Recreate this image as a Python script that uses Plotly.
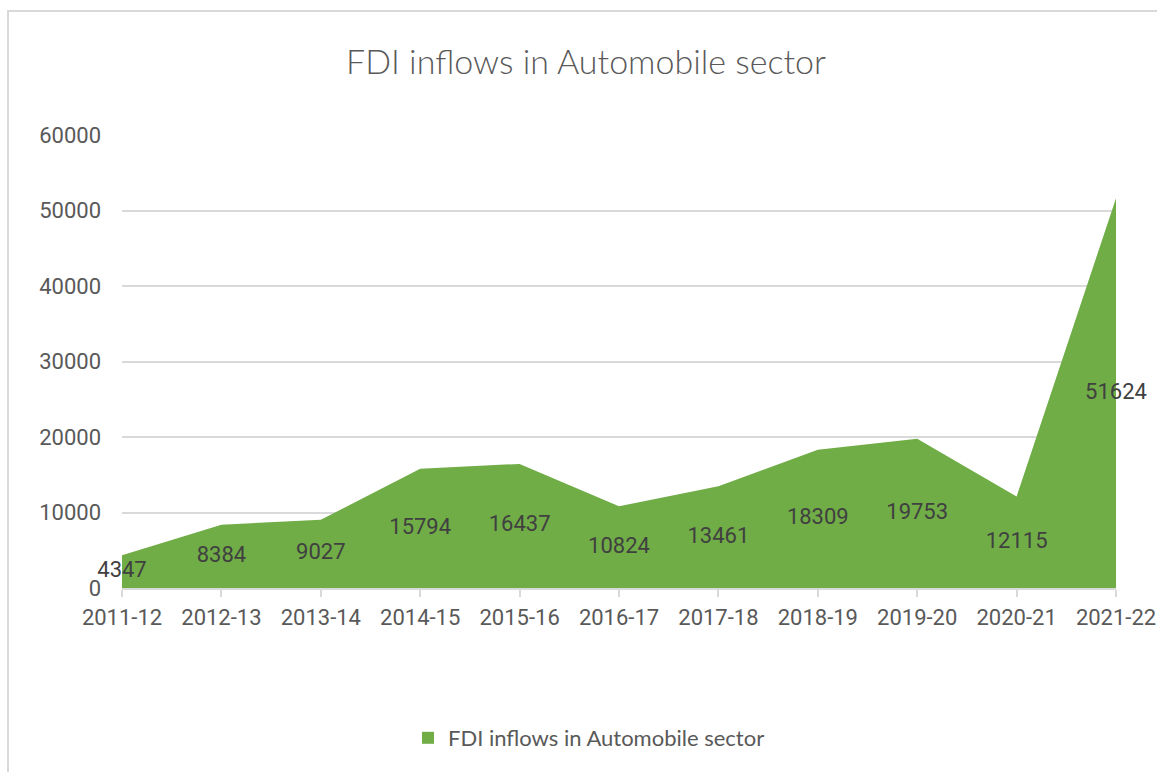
import plotly.graph_objects as go

years = ["2011-12", "2012-13", "2013-14", "2014-15", "2015-16", "2016-17",
         "2017-18", "2018-19", "2019-20", "2020-21", "2021-22"]
fdi = [4347, 8384, 9027, 15794, 16437, 10824, 13461, 18309, 19753, 12115, 51624]
y_ticks = [0, 10000, 20000, 30000, 40000, 50000, 60000]
series_name = "FDI inflows in Automobile sector"
title_text = "FDI inflows in Automobile sector"

GREEN = "#70AD47"
W, H = 1157, 772
L, R, T, B = 122, 41, 135, 184
pw, ph = W - L - R, H - T - B

fig = go.Figure()
fig.add_trace(go.Scatter(
    x=years, y=fdi, mode="lines", fill="tozeroy",
    line=dict(color=GREEN, width=0), fillcolor=GREEN,
    name=series_name, showlegend=False, hoverinfo="skip"))
# data labels centered in area (Excel style)
fig.add_trace(go.Scatter(
    x=years, y=[v / 2 for v in fdi], mode="text",
    text=[str(v) for v in fdi], textposition="middle center",
    textfont=dict(family="Roboto", size=22, color="#404040"),
    cliponaxis=False,
    showlegend=False, hoverinfo="skip"))
# legend entry
fig.add_trace(go.Scatter(
    x=[None], y=[None], mode="markers",
    marker=dict(symbol="square", size=14, color=GREEN),
    name=series_name, showlegend=True))

def px_x(p):
    return (p - L) / pw

def px_y(p):
    return (H - B - p) / ph

fig.add_shape(type="rect", xref="paper", yref="paper",
              x0=px_x(8), x1=px_x(1175), y0=px_y(790), y1=px_y(11),
              line=dict(color="#D9D9D9", width=2), fillcolor="rgba(0,0,0,0)",
              layer="below")

fig.update_layout(
    width=W, height=H,
    margin=dict(l=L, r=R, t=T, b=B, autoexpand=False),
    paper_bgcolor="white", plot_bgcolor="white",
    title=dict(text=title_text, x=586 / W, xanchor="center", xref="container",
               y=1 - 62 / H, yanchor="middle", yref="container",
               font=dict(family="Lato", size=34, color="#595959", weight=300)),
    showlegend=True,
    legend=dict(orientation="h", x=589 / W, xanchor="center", xref="container",
                y=1 - 738 / H, yanchor="middle", yref="container",
                font=dict(family="Lato", size=22, color="#595959"),
                itemsizing="constant", itemwidth=30),
    xaxis=dict(type="category", range=[0, len(years) - 1],
               showgrid=False, showline=True, linecolor="#D9D9D9", linewidth=2,
               ticks="outside", ticklen=7, tickcolor="#D9D9D9", tickwidth=2,
               ticklabelstandoff=2,
               tickfont=dict(family="Roboto", size=22, color="#595959"),
               automargin=False, fixedrange=True),
    yaxis=dict(range=[0, 60000], tickvals=y_ticks,
               ticktext=[str(v) for v in y_ticks],
               showgrid=True, gridcolor="#D9D9D9", gridwidth=2,
               zeroline=False, showline=False, ticks="",
               ticklabelstandoff=20,
               tickfont=dict(family="Roboto", size=22, color="#595959"),
               automargin=False, fixedrange=True),
)

fig.write_html("out.html")
